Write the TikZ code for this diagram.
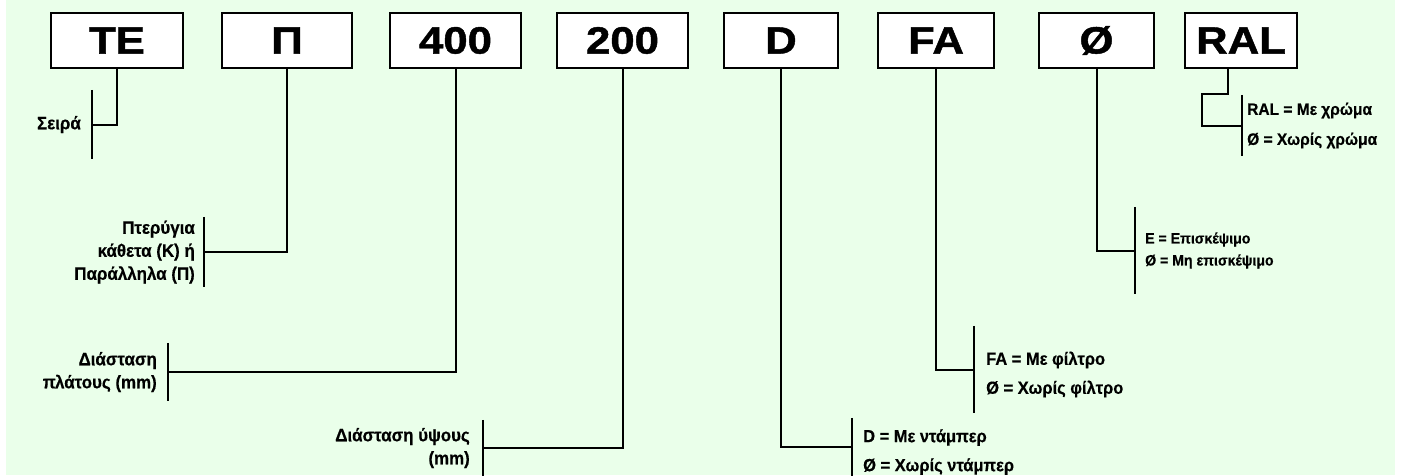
\documentclass[tikz,border=0pt]{standalone}
\usepackage{fontspec}
\usepackage{tikz}
\setmainfont{Liberation Sans}
\newfontfamily\boxfont[FakeStretch=1.15,FakeBold=1.2]{Liberation Sans Bold}
\newfontfamily\labfont[FakeStretch=0.94,FakeBold=0.4]{Liberation Sans Bold}
\definecolor{bggreen}{RGB}{234,255,234}

\begin{document}
\begin{tikzpicture}[x=1pt,y=-1pt,
    codebox/.style={draw,line width=2pt,fill=white,inner sep=0,minimum height=55pt,
      font=\boxfont\fontsize{38}{38}\selectfont},
    bar/.style={inner sep=0,minimum width=0,minimum height=#1},
    lead/.style={line width=2pt},
    note/.style={inner sep=0,font=\labfont\fontsize{18}{23}\selectfont},
    optnote/.style={note,align=left,anchor=west,font=\labfont\fontsize{17.5}{29}\selectfont}]
  \useasboundingbox (0,0) rectangle (1403,475);
  \fill [bggreen] (6,0) rectangle (1395,475);
  \begin{scope}
   \foreach \n/\txt/\cx/\w in {te/TE/117/132, pi/Π/287/130, wid/400/455.5/131, hgt/200/622.5/131,
       dmp/D/781/114, fil/FA/936/116, ins/Ø/1096.5/115, ral/RAL/1241/112} {
      \node [codebox,minimum width=\w] (\n) at (\cx,40.5) {\txt};
   }
   \node [bar=69] (teb) at (92,124.5) {};
   \node [bar=70] (pib) at (204,252) {};
   \node [bar=58] (widb) at (168,372) {};
   \node [bar=56] (hgtb) at (483,448) {};
   \node [bar=58] (dmpb) at (852,447) {};
   \node [bar=87] (filb) at (974,369.5) {};
   \node [bar=87] (insb) at (1135,250.5) {};
   \node [bar=61] (ralb) at (1242,125.5) {};
   \foreach \b in {teb,pib,widb,hgtb,dmpb,filb,insb,ralb} {
     \draw [lead] (\b.north) -- (\b.south);
   }
   \foreach \n in {te,pi,wid,hgt,dmp,fil,ins} {
     \draw [lead] (\n.south) |- (\n b.center);
   }
   \draw [lead] ([xshift=-13pt]ral.south) |- ([xshift=-40pt,yshift=31.5pt]ralb.center) |- (ralb.center);
   % left side
   \node [note,anchor=east] (tel) at ([xshift=-11pt]teb.center) {Σειρά};
   \node [note,anchor=east,align=right] (pil) at ([xshift=-9pt]pib.center) {Πτερύγια\\κάθετα (Κ) ή\\Παράλληλα (Π)};
   \node [note,anchor=east,align=right] (widl) at ([xshift=-11pt]widb.center) {Διάσταση\\πλάτους (mm)};
   \node [note,anchor=east,align=right] (hgtl) at ([xshift=-13pt]hgtb.center) {Διάσταση ύψους\\(mm)};
   % right side
   \node [optnote] (dmpl) at ([xshift=11pt,yshift=-5pt]dmpb.center) {D = Με ντάμπερ\\Ø = Χωρίς ντάμπερ};
   \node [optnote] (fill) at ([xshift=12pt,yshift=-5pt]filb.center) {FA = Με φίλτρο\\Ø = Χωρίς φίλτρο};
   \node [optnote,font=\labfont\fontsize{15}{22}\selectfont] (insl) at ([xshift=10pt]insb.center) {E = Επισκέψιμο\\Ø = Μη επισκέψιμο};
   \node [optnote,font=\labfont\fontsize{16.5}{30}\selectfont] (rall) at ([xshift=5pt]ralb.center) {RAL = Με χρώμα\\Ø = Χωρίς χρώμα};
  \end{scope}
\end{tikzpicture}
\end{document}
